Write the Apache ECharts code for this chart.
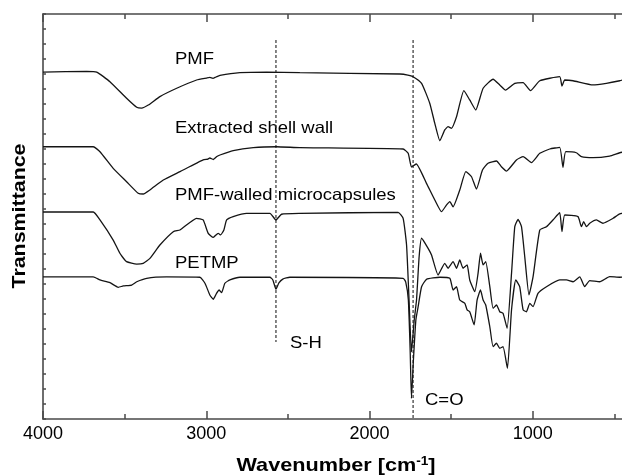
<!DOCTYPE html>
<html>
<head>
<meta charset="utf-8">
<script src="https://cdn.jsdelivr.net/npm/echarts@6/dist/echarts.min.js"></script>
<style>
html,body{margin:0;padding:0;background:#fff;}
#chart{width:622px;height:476px;}
</style>
</head>
<body>
<div id="chart"></div>
<script>
// x: wavenumber (cm-1), y: transmittance (arbitrary units, offset per curve)
const xTicks = [4000, 3000, 2000, 1000];

const pmf = [[4000,23.13],[3732,23.18],[3671,23.13],[3590,22.49],[3488,21.38],[3426,20.78],[3396,20.73],[3355,20.93],[3284,21.49],[3181,22.05],[3059,22.60],[2998,22.73],[2978,22.77],[2959,22.71],[2941,22.80],[2916,22.91],[2794,23.09],[2630,23.13],[2427,23.09],[1814,23.0],[1765,22.93],[1733,22.82],[1681,22.38],[1631,21.05],[1600,19.71],[1569,18.55],[1539,19.27],[1519,19.49],[1498,19.38],[1467,20.15],[1422,21.89],[1386,21.27],[1349,20.6],[1304,22.05],[1243,22.65],[1202,22.27],[1167,21.93],[1110,22.38],[1059,22.42],[1014,21.89],[957,22.55],[835,22.82],[821,22.2],[804,22.6],[753,22.55],[631,22.27],[549,22.38],[467,22.55],[400,22.75]];

const shellWall = [[4000,18.15],[3692,18.15],[3651,17.82],[3570,16.71],[3488,15.82],[3417,15.05],[3386,15.0],[3345,15.27],[3263,15.93],[3161,16.49],[3019,17.27],[2990,17.33],[2978,17.4],[2957,17.3],[2935,17.5],[2916,17.6],[2835,17.89],[2712,18.09],[2569,18.15],[2427,18.09],[1794,18.0],[1763,17.71],[1743,16.8],[1729,16.9],[1713,17.0],[1651,15.71],[1600,14.6],[1559,13.82],[1528,14.27],[1508,14.49],[1488,14.15],[1447,15.27],[1410,16.49],[1375,16.15],[1345,15.33],[1308,16.6],[1274,17.05],[1222,17.2],[1192,16.82],[1161,16.53],[1100,17.27],[1059,17.49],[1008,17.09],[957,17.71],[896,18.0],[835,18.11],[815,16.78],[798,17.82],[733,17.75],[702,17.49],[631,17.42],[529,17.53],[467,17.75],[400,17.9]];

const microcapsules = [[4000,13.8],[3692,13.8],[3651,13.27],[3570,11.93],[3529,11.05],[3488,10.49],[3426,10.33],[3386,10.38],[3345,10.71],[3284,11.6],[3202,12.49],[3161,12.6],[3059,13.38],[3019,13.27],[2988,12.38],[2957,12.11],[2927,12.38],[2912,12.27],[2892,12.6],[2875,13.27],[2835,13.49],[2753,13.71],[2610,13.71],[2573,13.27],[2539,13.65],[2427,13.71],[1825,13.78],[1794,13.38],[1773,11.6],[1759,8.27],[1743,4.47],[1726,6.6],[1712,7.93],[1696,10.82],[1681,12.05],[1641,11.38],[1620,10.93],[1580,9.6],[1539,10.38],[1519,10.05],[1488,10.49],[1467,10.05],[1447,10.6],[1427,10.05],[1402,10.27],[1386,9.27],[1355,8.49],[1335,9.71],[1320,11.05],[1304,10.27],[1288,10.49],[1263,8.82],[1243,7.38],[1222,7.6],[1202,7.15],[1182,7.05],[1157,6.05],[1130,9.71],[1110,12.82],[1090,13.31],[1069,12.82],[1049,10.82],[1023,8.27],[998,9.49],[957,12.6],[916,12.82],[876,13.27],[835,13.75],[821,12.49],[804,13.6],[723,13.49],[702,12.82],[688,13.15],[671,12.82],[651,13.05],[610,13.27],[570,13.05],[508,13.38],[467,13.67],[400,13.85]];

const petmp = [[4000,9.47],[3692,9.47],[3651,9.27],[3590,9.09],[3539,8.78],[3508,8.87],[3457,8.93],[3426,9.15],[3365,9.38],[3243,9.47],[3039,9.45],[3008,9.05],[2978,8.27],[2957,7.98],[2937,8.38],[2921,8.6],[2906,8.42],[2886,9.05],[2855,9.27],[2794,9.45],[2610,9.45],[2592,9.27],[2573,8.65],[2555,9.07],[2531,9.33],[2488,9.45],[1794,9.38],[1778,9.13],[1762,7.93],[1751,4.6],[1743,1.38],[1731,3.93],[1716,6.6],[1702,7.49],[1681,8.82],[1651,9.31],[1569,9.45],[1508,9.38],[1488,8.6],[1467,8.82],[1447,7.93],[1416,7.71],[1402,7.27],[1386,7.15],[1359,6.27],[1341,7.93],[1320,8.6],[1304,7.93],[1288,7.6],[1263,6.15],[1243,4.82],[1222,5.05],[1202,4.71],[1182,4.82],[1155,3.38],[1130,7.27],[1104,9.27],[1080,8.82],[1059,7.27],[1039,7.15],[1018,7.71],[998,7.49],[968,8.38],[916,8.82],[835,9.27],[794,9.27],[753,9.15],[712,9.47],[682,8.82],[651,9.22],[590,9.15],[529,9.49],[467,9.45],[400,9.47]];

const shLine = [[2573,25.27],[2573,5.13]];
const coLine = [[1733,25.27],[1733,0]];

const FONT = 'Liberation Sans';
const AX = '#4a4a4a';

const chart = echarts.init(document.getElementById('chart'), null, {renderer:'canvas'});

function xAxisCfg(pos, labels){
  return {
    type:'value', position:pos, inverse:true, min:0, max:4000, interval:1000,
    axisLine:{show:true, onZero:false, lineStyle:{color:AX, width:1.6}},
    axisTick:{show:true, inside:true, length:8, lineStyle:{color:AX, width:1.5}},
    minorTick:{show:true, splitNumber:2, length:5, lineStyle:{color:AX, width:1.5}},
    axisLabel:{show:labels, margin:6, fontSize:18, color:'#000', fontFamily:FONT,
      formatter:function(v){ return xTicks.indexOf(v) >= 0 ? String(v) : ''; }},
    splitLine:{show:false}, minorSplitLine:{show:false}
  };
}

const curveStyle = {color:'#141414', width:1.3};
function curve(name, data){
  return {name:name, type:'line', data:data, showSymbol:false, symbol:'none',
    smooth:0.15, lineStyle:curveStyle, itemStyle:{color:'#141414'}, z:3, silent:true};
}
function refLine(data){
  return {type:'line', data:data, showSymbol:false, symbol:'none',
    lineStyle:{color:'#333', width:1.2, type:[3,2]}, z:2, silent:true};
}
function label(text, x, y){
  return {type:'text', x:x, y:y, scaleX:1.12,
    style:{text:text, font:'16.5px "Liberation Sans"', fill:'#000', textAlign:'left', textVerticalAlign:'middle'}};
}

const option = {
  animation:false,
  backgroundColor:'#fff',
  grid:{left:43, top:14, height:405, width:653, containLabel:false, outerBoundsMode:'none'},
  xAxis:[xAxisCfg('bottom', true), xAxisCfg('top', false)],
  yAxis:{
    type:'value', position:'left', min:0, max:27, interval:1,
    axisLine:{show:true, onZero:false, lineStyle:{color:AX, width:1.6}},
    axisTick:{show:true, inside:true, length:3, lineStyle:{color:AX, width:1.5}},
    axisLabel:{show:false}, splitLine:{show:false}
  },
  series:[
    refLine(shLine), refLine(coLine),
    curve('PMF', pmf), curve('Extracted shell wall', shellWall),
    curve('PMF-walled microcapsules', microcapsules), curve('PETMP', petmp)
  ],
  graphic:[
    label('PMF', 175, 59),
    label('Extracted shell wall', 175, 128.5),
    label('PMF-walled microcapsules', 175, 195),
    label('PETMP', 175, 263),
    label('S-H', 290, 343),
    label('C=O', 425, 400),
    {type:'text', x:20, y:216, rotation:Math.PI/2, scaleX:1.125,
      style:{text:'Transmittance', font:'bold 19px "Liberation Sans"', fill:'#000', textAlign:'center', textVerticalAlign:'middle'}},
    {type:'text', x:336, y:466, scaleX:1.14,
      style:{text:'{a|Wavenumber [cm}{b|-1}{a|]}', textAlign:'center', textVerticalAlign:'middle',
        rich:{a:{font:'bold 19px "Liberation Sans"', fill:'#000', color:'#000'},
              b:{font:'bold 12px "Liberation Sans"', fill:'#000', color:'#000', verticalAlign:'top', padding:[0,0,8,0]}}}}
  ]
};
chart.setOption(option);
</script>
</body>
</html>
